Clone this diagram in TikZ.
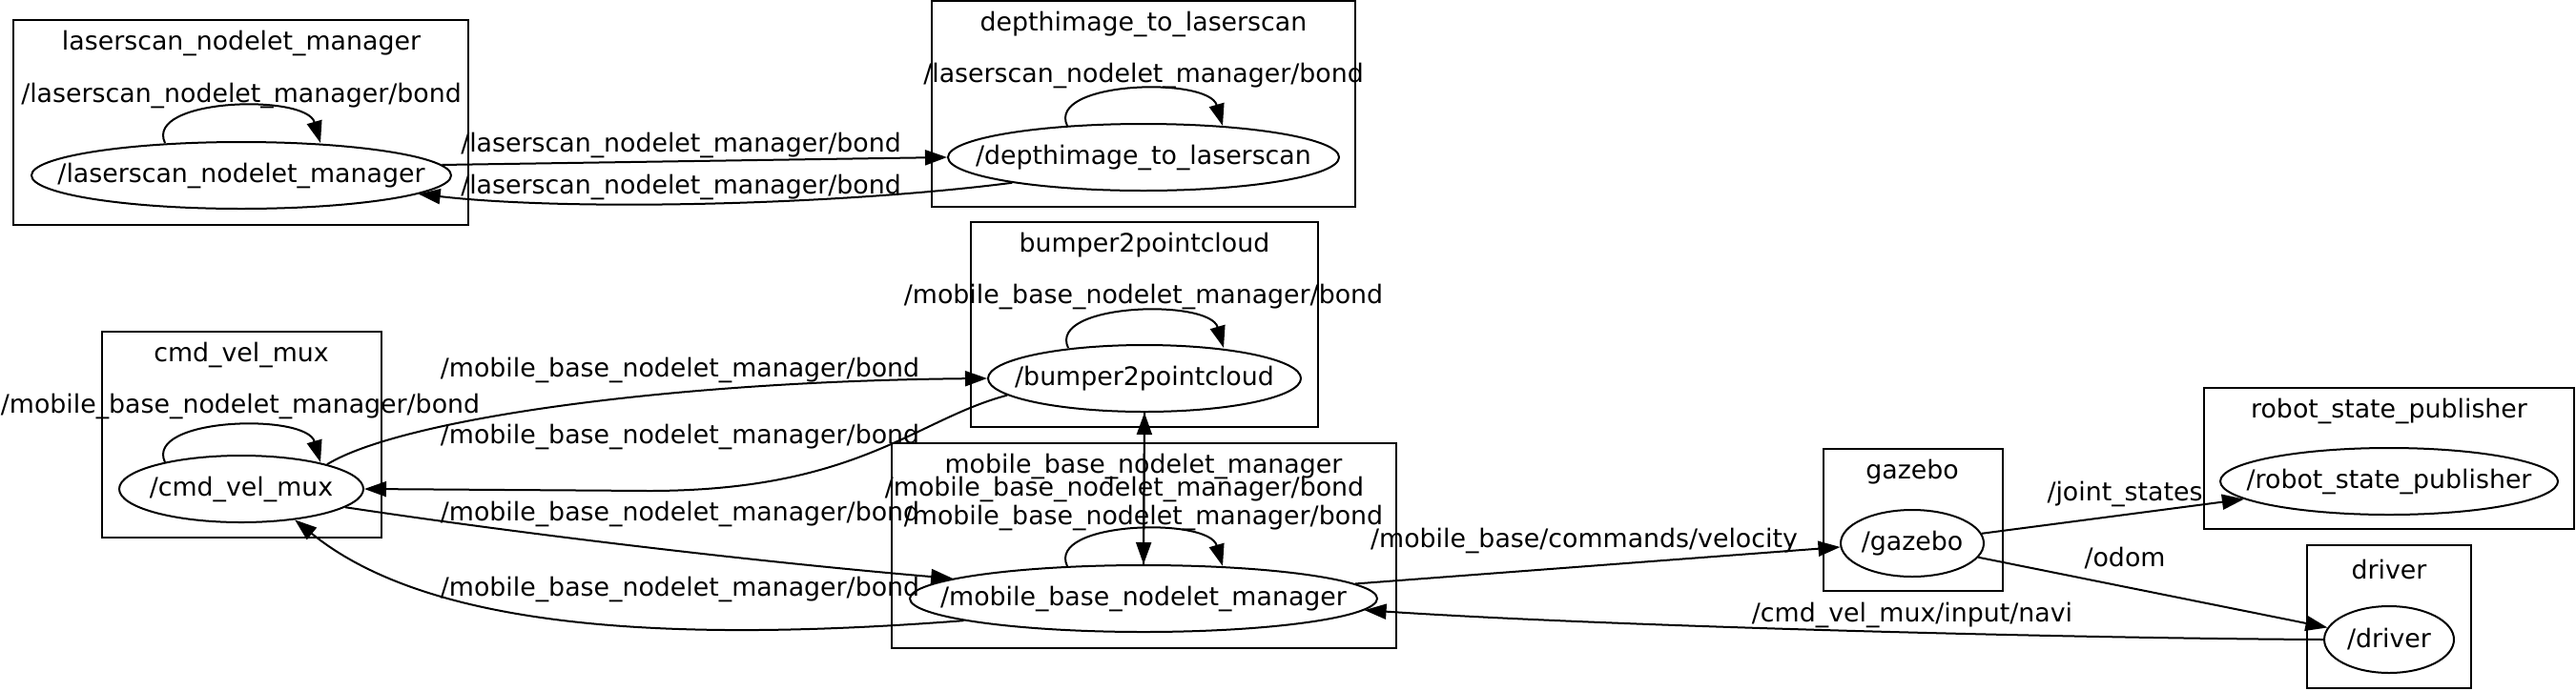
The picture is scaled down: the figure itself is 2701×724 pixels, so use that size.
\documentclass[tikz,border=0pt]{standalone}
\usepackage{fontspec}
\setmainfont{DejaVu Sans}
\usetikzlibrary{shapes.geometric, arrows.meta, calc}

\tikzset{
    cluster/.style={draw, line width=1pt},
    rosnode/.style={draw, ellipse, line width=1pt, inner sep=0pt, minimum height=35pt},
    lbl/.style={inner sep=0pt},
    edge/.style={line width=1pt, -{Triangle[length=11.5pt,width=8pt]}},
}
\newcommand{\rosname}[1]{\makebox[0pt]{#1}}

\begin{document}
\begin{tikzpicture}[x=0.5pt, y=-0.5pt, font=\fontsize{13.4}{16}\selectfont]
    \useasboundingbox (0,0) rectangle (2701,724);

    % Cluster boxes
    \draw[cluster] (14,21) rectangle (491,236);    % laserscan_nodelet_manager
    \draw[cluster] (977,1) rectangle (1421,217);   % depthimage_to_laserscan
    \draw[cluster] (1018,233) rectangle (1382,448); % bumper2pointcloud
    \draw[cluster] (107,348) rectangle (400,564);  % cmd_vel_mux
    \draw[cluster] (935,465) rectangle (1464,680); % mobile_base_nodelet_manager
    \draw[cluster] (1912,471) rectangle (2100,620); % gazebo
    \draw[cluster] (2311,407) rectangle (2699,555); % robot_state_publisher
    \draw[cluster] (2419,572) rectangle (2591,722); % driver

    % Cluster titles
    \node[lbl] (lnmtitle) at (253,45) {laserscan\_nodelet\_manager};
    \node[lbl] (dtltitle) at (1199,25) {depthimage\_to\_laserscan};
    \node[lbl] (b2ptitle) at (1200,257) {bumper2pointcloud};
    \node[lbl] (cvmtitle) at (253,372) {cmd\_vel\_mux};
    \node[lbl] (mbnmtitle) at (1199,489) {mobile\_base\_nodelet\_manager};
    \node[lbl] (gaztitle) at (2005,495) {gazebo};
    \node[lbl] (rsptitle) at (2505,431) {robot\_state\_publisher};
    \node[lbl] (drvtitle) at (2505,597) {driver};

    % ROS nodes
    \node[rosnode, minimum width=220pt] (lnm) at (253,184) {\rosname{/laserscan\_nodelet\_manager}};
    \node[rosnode, minimum width=205pt] (dtl) at (1199,165) {\rosname{/depthimage\_to\_laserscan}};
    \node[rosnode, minimum width=164pt] (b2p) at (1200,397) {\rosname{/bumper2pointcloud}};
    \node[rosnode, minimum width=245pt] (mbnm) at (1199,628) {\rosname{/mobile\_base\_nodelet\_manager}};
    \node[rosnode, minimum width=128pt] (cvm) at (253,513) {\rosname{/cmd\_vel\_mux}};
    \node[rosnode, minimum width=75pt] (gaz) at (2005,570) {\rosname{/gazebo}};
    \node[rosnode, minimum width=177pt] (rsp) at (2505,505) {\rosname{/robot\_state\_publisher}};
    \node[rosnode, minimum width=68pt] (drv) at (2505,671) {\rosname{/driver}};

    % Bond self loops
    \foreach \n/\d in {lnm/2, dtl/3, b2p/4, mbnm/2, cvm/8}
        \draw[edge] ($(\n.north)+(-80,\d)$) .. controls +(-22,-47) and +(-15,-52) .. ($(\n.north)+(83,\d)$);

    \node[lbl] (lnmloop) at (253,100) {/laserscan\_nodelet\_manager/bond};
    \node[lbl] (dtlloop) at (1199,79) {/laserscan\_nodelet\_manager/bond};
    \node[lbl] (b2ploop) at (1199,311) {/mobile\_base\_nodelet\_manager/bond};
    \node[lbl] (cvmloop) at (252,426) {/mobile\_base\_nodelet\_manager/bond};
    \node[lbl] (mbnmloop) at (1199,543) {/mobile\_base\_nodelet\_manager/bond};

    % Edges between nodes
    \draw[edge] (lnm.3) -- (dtl.west);
    \draw[edge] (dtl.191) .. controls (880,215) and (600,222) .. (lnm.354);
    \draw[edge] (cvm.16) .. controls (420,440) and (700,400) .. (b2p.west);
    \draw[edge] (b2p.187) .. controls (960,440) and (900,515) .. (680,515) -- (cvm.east);
    \draw[edge] (cvm.350) .. controls (560,562) and (800,590) .. (mbnm.174);
    \draw[edge] (mbnm.187) .. controls (700,675) and (450,660) .. (cvm.330);
    \draw[edge] (b2p.south) -- (mbnm.north);
    \draw[edge] (mbnm.north) -- (b2p.south);
    \draw[edge] (mbnm.4) -- (gaz.183);
    \draw[edge] (gaz.8) -- (rsp.187);
    \draw[edge] (gaz.348) -- (drv.169);
    \draw[edge] (drv.west) .. controls (2200,670) and (1700,658) .. (mbnm.357);

    % Edge labels
    \node[lbl] (e1) at (714,152) {/laserscan\_nodelet\_manager/bond};
    \node[lbl] (e2) at (714,196) {/laserscan\_nodelet\_manager/bond};
    \node[lbl] (e3) at (713,388) {/mobile\_base\_nodelet\_manager/bond};
    \node[lbl] (e4) at (713,458) {/mobile\_base\_nodelet\_manager/bond};
    \node[lbl] (e5) at (713,539) {/mobile\_base\_nodelet\_manager/bond};
    \node[lbl] (e6) at (713,618) {/mobile\_base\_nodelet\_manager/bond};
    \node[lbl] (e7) at (1179,513) {/mobile\_base\_nodelet\_manager/bond};
    \node[lbl] (e8) at (1661,567) {/mobile\_base/commands/velocity};
    \node[lbl] (e9) at (2228,518) {/joint\_states};
    \node[lbl] (e10) at (2228,586) {/odom};
    \node[lbl] (e11) at (2005,645) {/cmd\_vel\_mux/input/navi};
\end{tikzpicture}
\end{document}
